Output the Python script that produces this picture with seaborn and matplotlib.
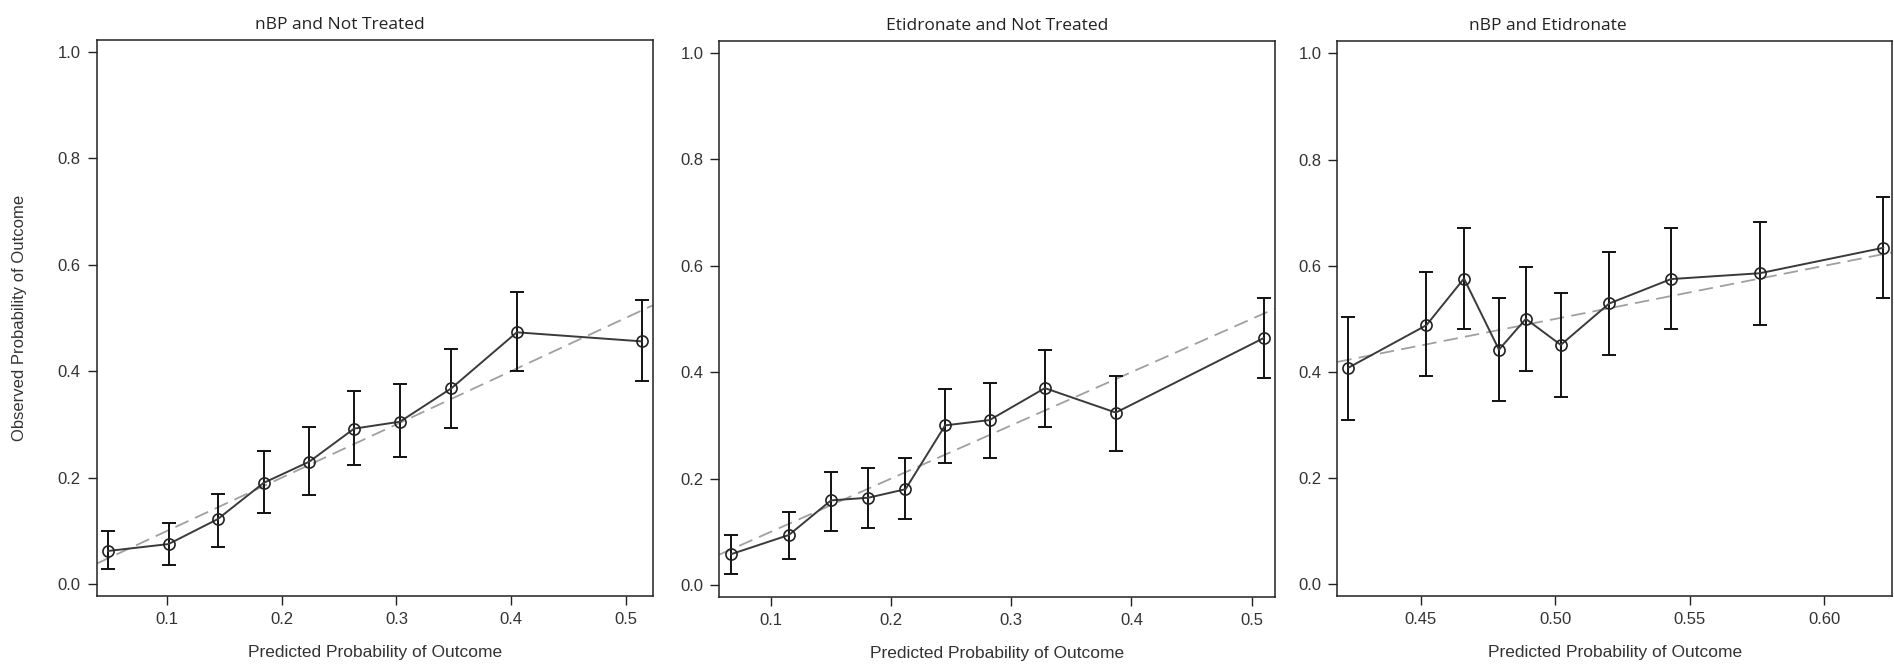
import numpy as np
import pandas as pd
import matplotlib
matplotlib.use("Agg")
import matplotlib.pyplot as plt
import seaborn as sns

# ---------------- data ----------------
titles = ["nBP and Not Treated", "Etidronate and Not Treated", "nBP and Etidronate"]

p1_pred = [0.048, 0.101, 0.144, 0.184, 0.224, 0.263, 0.303, 0.348, 0.405, 0.514]
p1_obs  = [0.062, 0.075, 0.122, 0.190, 0.230, 0.292, 0.305, 0.368, 0.473, 0.456]
p1_lo   = [0.028, 0.035, 0.070, 0.133, 0.167, 0.224, 0.238, 0.294, 0.400, 0.381]
p1_hi   = [0.100, 0.114, 0.170, 0.249, 0.295, 0.362, 0.375, 0.441, 0.548, 0.533]

p2_pred = [0.067, 0.115, 0.150, 0.181, 0.212, 0.245, 0.282, 0.328, 0.387, 0.510]
p2_obs  = [0.058, 0.094, 0.159, 0.164, 0.180, 0.300, 0.310, 0.370, 0.324, 0.464]
p2_lo   = [0.021, 0.048, 0.102, 0.107, 0.124, 0.229, 0.239, 0.297, 0.251, 0.389]
p2_hi   = [0.094, 0.137, 0.212, 0.220, 0.239, 0.369, 0.380, 0.442, 0.393, 0.540]

p3_pred = [0.423, 0.452, 0.466, 0.479, 0.489, 0.502, 0.520, 0.543, 0.576, 0.622]
p3_obs  = [0.408, 0.488, 0.576, 0.442, 0.500, 0.451, 0.529, 0.575, 0.586, 0.634]
p3_lo   = [0.310, 0.392, 0.481, 0.346, 0.402, 0.353, 0.432, 0.481, 0.488, 0.540]
p3_hi   = [0.504, 0.589, 0.672, 0.540, 0.597, 0.548, 0.626, 0.672, 0.683, 0.729]

xticks = [[0.1, 0.2, 0.3, 0.4, 0.5],
          [0.1, 0.2, 0.3, 0.4, 0.5],
          [0.45, 0.50, 0.55, 0.60]]
xticklabels = [["0.1", "0.2", "0.3", "0.4", "0.5"],
               ["0.1", "0.2", "0.3", "0.4", "0.5"],
               ["0.45", "0.50", "0.55", "0.60"]]
yticks = [0.0, 0.2, 0.4, 0.6, 0.8, 1.0]
yticklabels = ["0.0", "0.2", "0.4", "0.6", "0.8", "1.0"]
xlabel = "Predicted Probability of Outcome"
ylabel = "Observed Probability of Outcome"

panels = [
    (p1_pred, p1_obs, p1_lo, p1_hi),
    (p2_pred, p2_obs, p2_lo, p2_hi),
    (p3_pred, p3_obs, p3_lo, p3_hi),
]

# ---------------- style ----------------
sns.set_style("ticks")
plt.rcParams["font.family"] = ["Liberation Sans", "DejaVu Sans"]

fig = plt.figure(figsize=(18.94, 6.69), dpi=100)

# axes rectangles [left, bottom, width, height] in figure fraction
rects = [
    [0.0511, 0.1091, 0.2935, 0.8316],
    [0.3798, 0.1076, 0.2934, 0.8316],
    [0.7061, 0.1087, 0.2930, 0.8296],
]
xlims = [(0.0384, 0.5236), (0.0571, 0.5195), (0.4189, 0.6253)]
ylim = (-0.0226, 1.023)
title_x = [0.4376, 0.50, 0.38]

text_col = "#333333"
for i, (rect, (pred, obs, lo, hi)) in enumerate(zip(rects, panels)):
    ax = fig.add_axes(rect)
    df = pd.DataFrame({"pred": pred, "obs": obs, "lo": lo, "hi": hi})

    # identity reference line
    ax.axline((0, 0), slope=1, color="#a0a0a0", lw=1.3, dashes=(8, 4), zorder=1)

    # error bars
    yerr = np.vstack([df["obs"] - df["lo"], df["hi"] - df["obs"]])
    ax.errorbar(df["pred"], df["obs"], yerr=yerr, fmt="none", ecolor="#111111",
                elinewidth=1.4, capsize=5, capthick=1.4, zorder=2)

    # observed line with open circle markers
    sns.lineplot(data=df, x="pred", y="obs", ax=ax, color="#3a3a3a", lw=1.4,
                 marker="o", markersize=8, markerfacecolor="none",
                 markeredgecolor="#222222", markeredgewidth=1.2, zorder=3,
                 sort=False)

    ax.set_xlim(*xlims[i])
    ax.set_ylim(*ylim)
    ax.set_xticks(xticks[i])
    ax.set_xticklabels(xticklabels[i])
    ax.set_yticks(yticks)
    ax.set_yticklabels(yticklabels)
    ax.tick_params(axis="both", direction="out", length=6.5, width=1.0,
                   color="#222222", labelsize=12, labelcolor=text_col, pad=5)
    for s in ax.spines.values():
        s.set_visible(True)
        s.set_linewidth(1.1)
        s.set_color("#222222")

    ax.set_xlabel(xlabel, fontsize=12.5, color=text_col)
    ax.xaxis.set_label_coords(0.5, -0.088)
    if i == 0:
        ax.set_ylabel(ylabel, fontsize=12, color=text_col)
        ax.yaxis.set_label_coords(-0.125, 0.5)
    else:
        ax.set_ylabel("")

    ax.set_title(titles[i], fontsize=12.5, color="#222222", x=title_x[i],
                 pad=8, family=["Open Sans", "DejaVu Sans"])

fig.savefig("out.png", dpi=100, facecolor="white")
